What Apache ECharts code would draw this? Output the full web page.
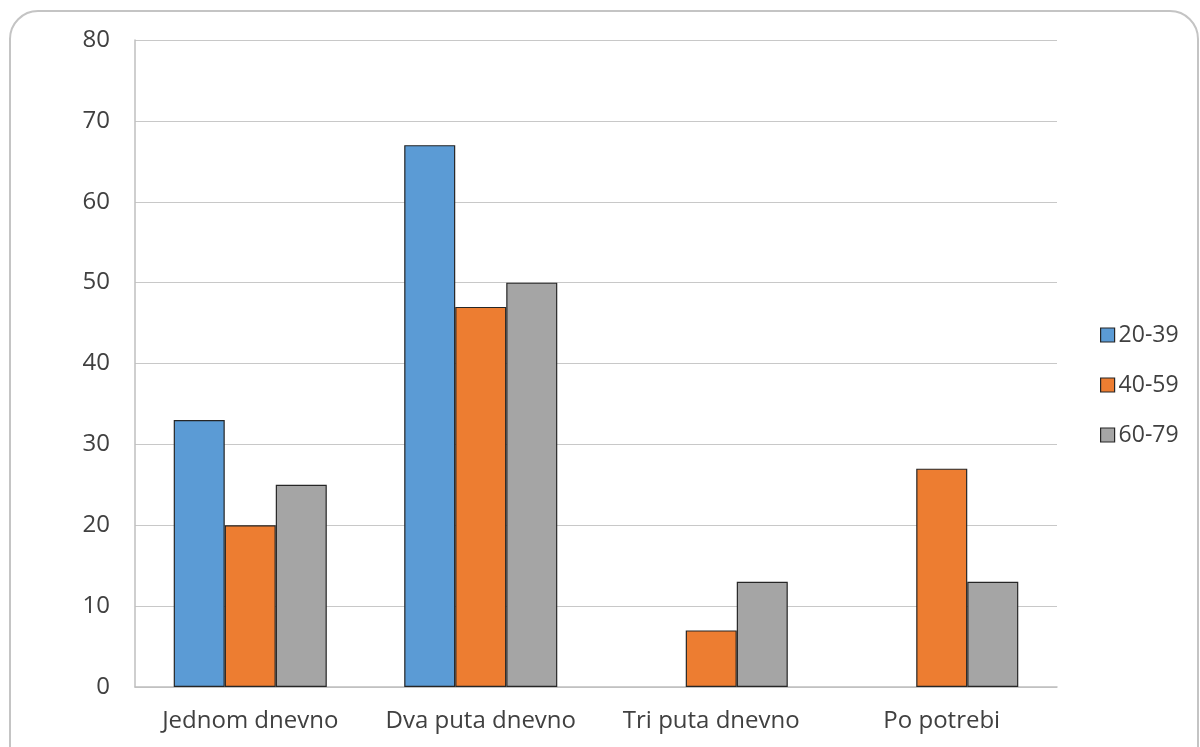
<!DOCTYPE html>
<html><head><meta charset="utf-8">
<script src="https://cdn.jsdelivr.net/npm/echarts@6/dist/echarts.min.js"></script>
<style>html,body{margin:0;padding:0;background:#fff;}#c{width:1200px;height:747px;}</style>
</head><body><div id="c"></div>
<script>
const categories = ['Jednom dnevno', 'Dva puta dnevno', 'Tri puta dnevno', 'Po potrebi'];
const seriesNames = ['20-39', '40-59', '60-79'];
const s2039 = [33, 67, 0, 0];
const s4059 = [20, 47, 7, 27];
const s6079 = [25, 50, 13, 13];
const colors = ['#5b9bd5', '#ed7d31', '#a5a5a5'];
const FONT = '"Open Sans", "Noto Sans", sans-serif';

const chart = echarts.init(document.getElementById('c'));
const mk = (name, data, color) => ({
  name, type: 'bar', data: data.map(v => v === 0 ? '-' : v), barGap: '0%', barCategoryGap: '33.6%',
  itemStyle: { color, borderColor: '#262626', borderWidth: 1.2 }
});
chart.setOption({
  animation: false,
  graphic: [{
    type: 'rect', shape: { x: 10, y: 11, width: 1188, height: 800, r: 28 },
    style: { fill: 'none', stroke: '#c4c4c4', lineWidth: 2 }, silent: true, z: -1
  }],
  grid: { left: 135, right: 143, top: 40, bottom: 60, containLabel: false },
  legend: {
    orient: 'vertical', left: 1095, top: 318, itemGap: 26, itemWidth: 14, itemHeight: 14,
    icon: 'rect', data: seriesNames,
    textStyle: { fontFamily: FONT, fontSize: 23, lineHeight: 24, color: '#404040', padding: [0, 0, 0, -1] },
    itemStyle: { borderColor: '#262626', borderWidth: 1.2 }
  },
  xAxis: {
    type: 'category', data: categories,
    axisLine: { lineStyle: { color: '#bfbfbf', width: 1.5 } },
    axisTick: { show: false },
    axisLabel: { fontFamily: FONT, fontSize: 24, color: '#404040', margin: 22, interval: 0 }
  },
  yAxis: {
    type: 'value', min: 0, max: 80, interval: 10,
    axisLine: { show: true, lineStyle: { color: '#bfbfbf', width: 1.5 } },
    axisTick: { show: false },
    splitLine: { lineStyle: { color: '#c8c8c8', width: 1.2 } },
    axisLabel: { fontFamily: FONT, fontSize: 24, color: '#404040', margin: 25 }
  },
  series: [mk(seriesNames[0], s2039, colors[0]), mk(seriesNames[1], s4059, colors[1]), mk(seriesNames[2], s6079, colors[2])]
});
</script></body></html>
